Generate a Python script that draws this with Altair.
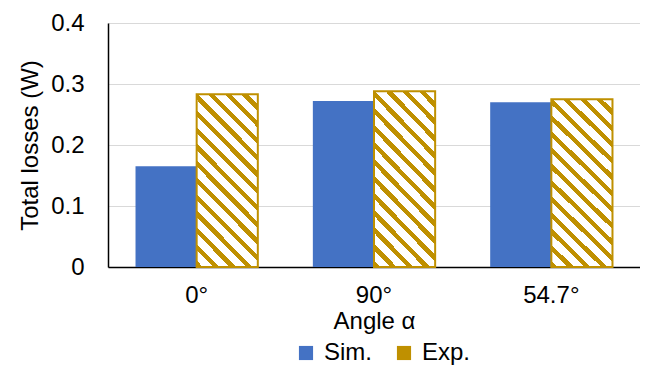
import altair as alt
import pandas as pd

angles = ["0°", "90°", "54.7°"]
sim_values = [0.165, 0.272, 0.270]
exp_values = [0.283, 0.288, 0.275]
series = ["Sim.", "Exp."]
y_ticks = [0, 0.1, 0.2, 0.3, 0.4]

rows = []
for a, s, e in zip(angles, sim_values, exp_values):
    rows.append({"angle": a, "series": "Sim.", "value": s})
    rows.append({"angle": a, "series": "Exp.", "value": e})
df = pd.DataFrame(rows)

BLUE = "#4472C4"
GOLD = "#BF9000"
FONT = "Liberation Sans"
FS = 24

# diagonal hatch as a hard-stop linear gradient (stripes at ~45 deg, "\" direction)
k = 2.8  # approx bar height / width ratio
s = (1 + k) / (1 + k * k)
N = 14
stops = []
for i in range(N):
    a0 = i / N
    a1 = a0 + 0.38 / N
    b1 = (i + 1) / N
    stops += [
        alt.GradientStop(offset=a0, color=GOLD),
        alt.GradientStop(offset=a1, color=GOLD),
        alt.GradientStop(offset=a1, color="white"),
        alt.GradientStop(offset=b1, color="white"),
    ]
hatch = alt.LinearGradient(gradient="linear", x1=0, y1=1, x2=s, y2=1 - k * s, stops=stops)

x_enc = alt.X(
    "angle:N",
    sort=angles,
    scale=alt.Scale(paddingInner=0, paddingOuter=0),
    axis=alt.Axis(
        title="Angle α",
        labelAngle=0,
        ticks=False,
        domainColor="black",
        domainWidth=1.5,
        labelPadding=16,
        titlePadding=2,
        grid=False,
    ),
)
y_enc = alt.Y(
    "value:Q",
    scale=alt.Scale(domain=[0, 0.4], nice=False),
    axis=alt.Axis(
        title="Total losses (W)",
        values=y_ticks,
        format="~g",
        ticks=False,
        domainColor="black",
        domainWidth=1.5,
        labelPadding=24,
        titlePadding=8,
        gridColor="#D9D9D9",
        gridWidth=1.2,
    ),
)
xoff = alt.XOffset("series:N", sort=series, scale=alt.Scale(paddingInner=0, paddingOuter=0.45))

base_bars = alt.Chart(df).mark_bar().encode(
    x=x_enc,
    y=y_enc,
    xOffset=xoff,
    color=alt.Color(
        "series:N",
        sort=series,
        scale=alt.Scale(domain=series, range=[BLUE, GOLD]),
        legend=alt.Legend(
            title=None,
            orient="none",
            legendX=186,
            legendY=318,
            direction="horizontal",
            symbolType="square",
            symbolSize=200,
            labelFontSize=FS,
            labelFont=FONT,
            labelColor="black",
            columnPadding=20,
            symbolStrokeWidth=0,
            labelOffset=6,
        ),
    ),
)

exp_bars = alt.Chart(df).transform_filter(alt.datum.series == "Exp.").mark_bar(
    fill=hatch, stroke=GOLD, strokeWidth=2
).encode(
    x=alt.X("angle:N", sort=angles),
    y=alt.Y("value:Q"),
    xOffset=alt.XOffset("series:N", sort=series),
)

chart = (
    alt.layer(base_bars, exp_bars)
    .properties(
        width=532,
        height=244,
        autosize=alt.AutoSizeParams(type="none"),
        padding={"left": 100, "top": 15, "right": 0, "bottom": 100},
    )
    .configure_axis(
        labelFont=FONT,
        labelFontSize=FS,
        labelColor="black",
        titleFont=FONT,
        titleFontSize=FS,
        titleColor="black",
        titleFontWeight="normal",
    )
    .configure_view(stroke=None)
)

chart.save("out.html", embed_options={"renderer": "svg", "actions": False})
